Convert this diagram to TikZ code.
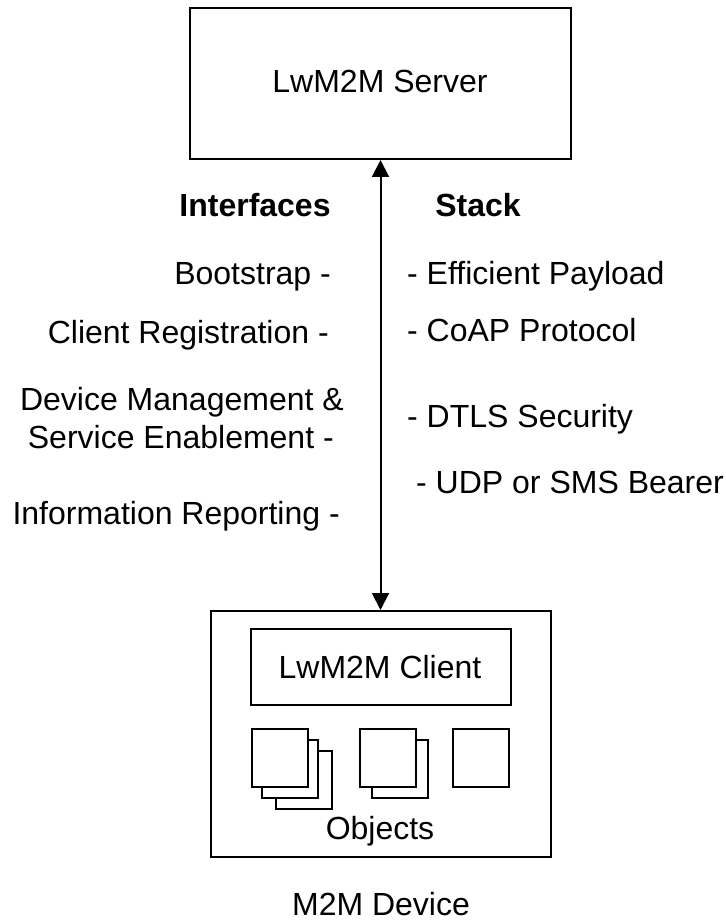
\documentclass[tikz,border=0pt]{standalone}
\usepackage{fontspec}
\setmainfont{Liberation Sans}
\usetikzlibrary{arrows.meta}
\begin{document}
\begin{tikzpicture}[x=1pt,y=-1pt,
  box/.style={draw,line width=2pt,fill=white,inner sep=0pt},
  sq/.style={box,minimum width=56pt,minimum height=58pt},
  lbl/.style={inner sep=0pt,font=\fontsize{32pt}{37pt}\selectfont,align=center},
  bold/.style={lbl,font=\fontsize{32pt}{37pt}\selectfont\bfseries},
  ll/.style={lbl,anchor=base east},
  rl/.style={lbl,anchor=base west}]
\useasboundingbox (0,0) rectangle (725,920);
\node[box,minimum width=381pt,minimum height=151pt] (srv) at (380.5,83.5) {};
\node[lbl,anchor=base] (srvt) at (380,93) {LwM2M Server};
\node[box,minimum width=340pt,minimum height=246pt] (dev) at (381,734) {};
\node[box,minimum width=260pt,minimum height=76pt] (cli) at (380.5,667) {};
\node[lbl,anchor=base] (clit) at (380,678) {LwM2M Client};
\node[sq] (a3) at (303.5,779.5) {};
\node[sq] (a2) at (290,768.5) {};
\node[sq] (a1) at (280,758) {};
\node[sq] (b2) at (399.5,768.5) {};
\node[sq] (b1) at (388,758) {};
\node[sq] (c) at (481,758) {};
\node[lbl,anchor=base] (obj) at (380,839) {Objects};
\node[lbl,anchor=base] (m2m) at (381,915) {M2M Device};
\draw[line width=2pt,{Triangle[length=17pt,width=17pt]}-{Triangle[length=17pt,width=17pt]}] (srv.south) -- (srv.south |- dev.north);
\node[bold,anchor=base] (if) at (255,216.5) {Interfaces};
\node[bold,anchor=base] (st) at (478,216.5) {Stack};
\node[ll] (l1) at (331,284) {Bootstrap -};
\node[ll] (l2) at (329,343) {Client Registration -};
\node[ll] (l3a) at (344,410) {Device Management \&};
\node[ll] (l3b) at (334,448) {Service Enablement -};
\node[ll] (l4) at (340,524) {Information Reporting -};
\node[rl] (r1) at (407,284) {- Efficient Payload};
\node[rl] (r2) at (407,341) {- CoAP Protocol};
\node[rl] (r3) at (407,427) {- DTLS Security};
\node[rl] (r4) at (416,493.5) {- UDP or SMS Bearer};
\end{tikzpicture}
\end{document}
